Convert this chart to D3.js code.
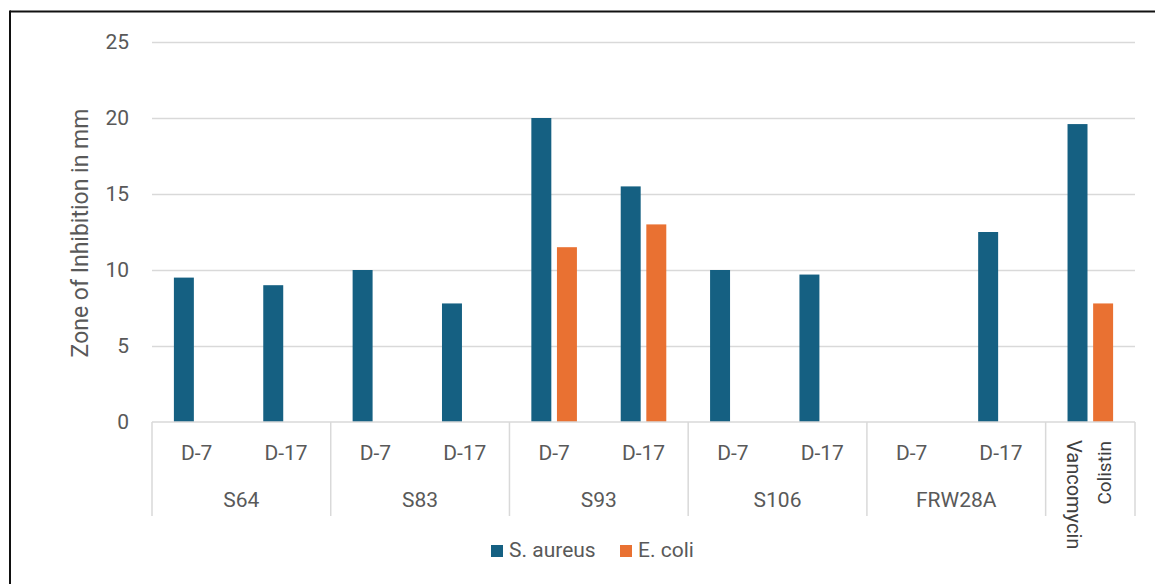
<!DOCTYPE html>
<html>
<head>
<meta charset="utf-8">
<script src="https://cdn.jsdelivr.net/npm/d3@7"></script>
<style>
  html, body { margin: 0; padding: 0; background: #fff; }
  svg { display: block; font-family: Roboto, "Liberation Sans", sans-serif; }
</style>
</head>
<body>
<svg id="chart" width="1155" height="584"></svg>
<script>
// Isolates, sampling days and control antibiotics
const isolates = ["S64", "S83", "S93", "S106", "FRW28A"];
const days = ["D-7", "D-17"];
const controls = ["Vancomycin", "Colistin"];
const seriesNames = ["S. aureus", "E. coli"];
const seriesColors = ["#156082", "#E97132"];

// Zone of inhibition (mm), one entry per category slot (isolate x day, then controls)
const aureusValues = [9.5, 9.0, 10.0, 7.8, 20.0, 15.5, 10.0, 9.7, null, 12.5, 19.6];
const ecoliValues  = [null, null, null, null, 11.5, 13.0, null, null, null, null, 7.8];
const yTicks = [0, 5, 10, 15, 20, 25];

const svg = d3.select("#chart");
const margin = { left: 152, right: 1135, top: 42, bottom: 422 };

// category slots
const slots = [];
isolates.forEach(iso => days.forEach(d => slots.push(iso + "|" + d)));
slots.push("controls");

const x0 = d3.scaleBand().domain(slots).range([margin.left, margin.right]).padding(0);
const x1 = d3.scaleBand().domain(seriesNames).range([0, x0.bandwidth()])
  .paddingInner(0.22).paddingOuter(0.855);
const y = d3.scaleLinear().domain([0, 25]).range([margin.bottom, margin.top]);

const textColor = "#595959";
const gridColor = "#d9d9d9";
const labelSize = 21;

// outer frame
svg.append("line").attr("x1", 10).attr("x2", 1155).attr("y1", 11.5).attr("y2", 11.5)
  .attr("stroke", "#111").attr("stroke-width", 2);
svg.append("line").attr("x1", 10).attr("x2", 10).attr("y1", 10.5).attr("y2", 584)
  .attr("stroke", "#111").attr("stroke-width", 2);

// horizontal gridlines with value labels
const yAxis = d3.axisLeft(y).tickValues(yTicks).tickSize(-(margin.right - margin.left)).tickPadding(23);
const gy = svg.append("g").attr("transform", `translate(${margin.left},0)`).call(yAxis);
gy.select(".domain").remove();
gy.selectAll(".tick line").attr("stroke", gridColor).attr("stroke-width", 1.5)
  .filter(d => d === 0).remove();
gy.selectAll(".tick text").attr("fill", textColor).attr("font-size", labelSize)
  .attr("font-family", "Roboto, 'Liberation Sans', sans-serif");

// y-axis title
svg.append("text")
  .attr("transform", "translate(80,233) rotate(-90)")
  .attr("text-anchor", "middle").attr("dy", "0.35em")
  .attr("fill", textColor).attr("font-size", 23)
  .text("Zone of Inhibition in mm");

// bars
const series = [aureusValues, ecoliValues];
series.forEach((vals, si) => {
  svg.append("g").selectAll("rect")
    .data(vals.map((v, i) => ({ v, slot: slots[i] })).filter(d => d.v != null))
    .join("rect")
    .attr("x", d => x0(d.slot) + x1(seriesNames[si]))
    .attr("width", x1.bandwidth())
    .attr("y", d => y(d.v))
    .attr("height", d => y(0) - y(d.v))
    .attr("fill", seriesColors[si]);
});

// category axis: baseline and group separators
const axisG = svg.append("g");
axisG.append("line").attr("x1", margin.left).attr("x2", margin.right)
  .attr("y1", y(0)).attr("y2", y(0)).attr("stroke", gridColor).attr("stroke-width", 1.5);
const boundaries = isolates.map(iso => x0(iso + "|" + days[0]));
boundaries.push(x0("controls"), margin.right);
axisG.selectAll(".sep").data(boundaries).join("line")
  .attr("x1", d => d).attr("x2", d => d)
  .attr("y1", y(0)).attr("y2", 516)
  .attr("stroke", gridColor).attr("stroke-width", 1.5);

// inner labels (days)
axisG.selectAll(".day").data(slots.filter(s => s !== "controls")).join("text")
  .attr("x", d => x0(d) + x0.bandwidth() / 2).attr("y", 460)
  .attr("text-anchor", "middle").attr("fill", textColor).attr("font-size", labelSize)
  .text(d => d.split("|")[1]);

// outer labels (isolates)
axisG.selectAll(".iso").data(isolates).join("text")
  .attr("x", d => x0(d + "|" + days[0]) + x0.bandwidth())
  .attr("y", 507)
  .attr("text-anchor", "middle").attr("fill", textColor).attr("font-size", labelSize)
  .text(d => d);

// control labels, set vertically under their bars
const cx = x0("controls");
axisG.append("text")
  .attr("transform", `translate(${cx + x1(seriesNames[0]) + x1.bandwidth() / 2 - 4},440) rotate(90)`)
  .attr("text-anchor", "start").attr("dy", "0.35em")
  .attr("fill", "#404040").attr("font-size", 20)
  .text(controls[0]);
axisG.append("text")
  .attr("transform", `translate(${cx + x1(seriesNames[1]) + x1.bandwidth() / 2 + 1},441) rotate(-90)`)
  .attr("text-anchor", "end").attr("dy", "0.35em")
  .attr("fill", "#404040").attr("font-size", 19)
  .text(controls[1]);

// legend
const legendItems = [
  { name: seriesNames[0], color: seriesColors[0], x: 491 },
  { name: seriesNames[1], color: seriesColors[1], x: 620 }
];
const lg = svg.append("g");
legendItems.forEach(it => {
  lg.append("rect").attr("x", it.x).attr("y", 545).attr("width", 12).attr("height", 12).attr("fill", it.color);
  lg.append("text").attr("x", it.x + 18).attr("y", 557)
    .attr("fill", textColor).attr("font-size", labelSize).text(it.name);
});
</script>
</body>
</html>
